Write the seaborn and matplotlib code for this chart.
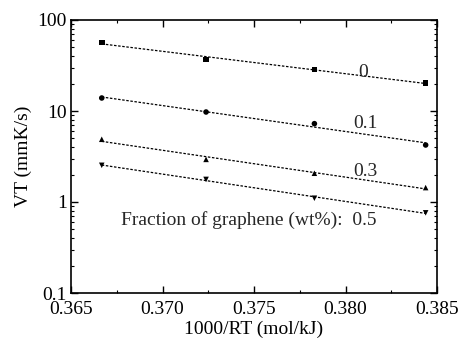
import numpy as np
import pandas as pd
import matplotlib
matplotlib.use("Agg")
import matplotlib.pyplot as plt
import seaborn as sns
from matplotlib.ticker import MultipleLocator, LogLocator, NullFormatter, FixedLocator, FixedFormatter

sns.set_theme(style="white")
plt.rcParams['font.family'] = ['Liberation Serif', 'DejaVu Serif']
plt.rcParams['mathtext.fontset'] = 'stix'

# Data
x_vals = [0.36668, 0.37238, 0.37830, 0.38438]
fractions = ["0", "0.1", "0.3", "0.5"]
vt_0 = [56.9, 37.0, 28.7, 20.3]
vt_01 = [13.9, 9.75, 7.26, 4.23]
vt_03 = [4.89, 2.94, 2.07, 1.44]
vt_05 = [2.53, 1.77, 1.10, 0.76]
series = [vt_0, vt_01, vt_03, vt_05]
markers = ["s", "o", "^", "v"]
x_ticks = [0.365, 0.370, 0.375, 0.380, 0.385]
y_ticks = [0.1, 1, 10, 100]
y_tick_labels = ["0.1", "1", "10", "100"]

rows = []
fit_rows = []
for frac, vals in zip(fractions, series):
    for xv, yv in zip(x_vals, vals):
        rows.append({"x": xv, "vt": yv, "frac": frac})
    coef = np.polyfit(x_vals, np.log10(vals), 1)
    for xv in (x_vals[0], x_vals[-1]):
        fit_rows.append({"x": xv, "vt": 10 ** np.polyval(coef, xv), "frac": frac})
df = pd.DataFrame(rows)
fit = pd.DataFrame(fit_rows)

FS = 14

fig = plt.figure(figsize=(4.61, 3.43), dpi=100)
ax = fig.add_axes([71 / 461, 1 - 293 / 343, (437 - 71) / 461, (293 - 20) / 343])

sns.lineplot(data=fit, x="x", y="vt", units="frac", estimator=None, ax=ax,
             color="black", lw=0.9, linestyle=(0, (2.0, 1.3)), legend=False)
sns.scatterplot(data=df, x="x", y="vt", style="frac", markers=dict(zip(fractions, markers)),
                color="black", s=16, edgecolor="black", linewidth=0, ax=ax, legend=False)

ax.set_yscale("log")
ax.set_xlim(0.365, 0.385)
ax.set_ylim(0.1, 100)
ax.xaxis.set_major_locator(FixedLocator(x_ticks))
ax.xaxis.set_major_formatter(FixedFormatter(["%.3f" % v for v in x_ticks]))
ax.xaxis.set_minor_locator(MultipleLocator(0.0025))
ax.yaxis.set_major_locator(FixedLocator(y_ticks))
ax.yaxis.set_major_formatter(FixedFormatter(y_tick_labels))
ax.yaxis.set_minor_locator(LogLocator(base=10, subs=np.arange(2, 10)))
ax.yaxis.set_minor_formatter(NullFormatter())

ax.tick_params(which="both", direction="in", top=True, right=True, bottom=True, left=True,
               colors="black", labelsize=FS)
ax.tick_params(which="major", length=5, width=1)
ax.tick_params(which="minor", length=2.5, width=0.8)
ax.tick_params(axis="x", which="major", pad=6)
ax.tick_params(axis="y", which="major", pad=3)
for sp in ax.spines.values():
    sp.set_color("black")
    sp.set_linewidth(1.2)

ax.set_xlabel("1000/RT (mol/kJ)", fontsize=FS, color="black", labelpad=2)
ax.set_ylabel("VT (mmK/s)", fontsize=FS, color="black", labelpad=4)

ax.text(0.38096, 26.8, "0", fontsize=FS, ha="center", va="center")
ax.text(0.38107, 7.2, "0.1", fontsize=FS, ha="center", va="center")
ax.text(0.38107, 2.15, "0.3", fontsize=FS, ha="center", va="center")
ax.text(0.38172, 0.634, "Fraction of graphene (wt%):  0.5", fontsize=FS, ha="right", va="center")

fig.savefig("out.png", dpi=100)
